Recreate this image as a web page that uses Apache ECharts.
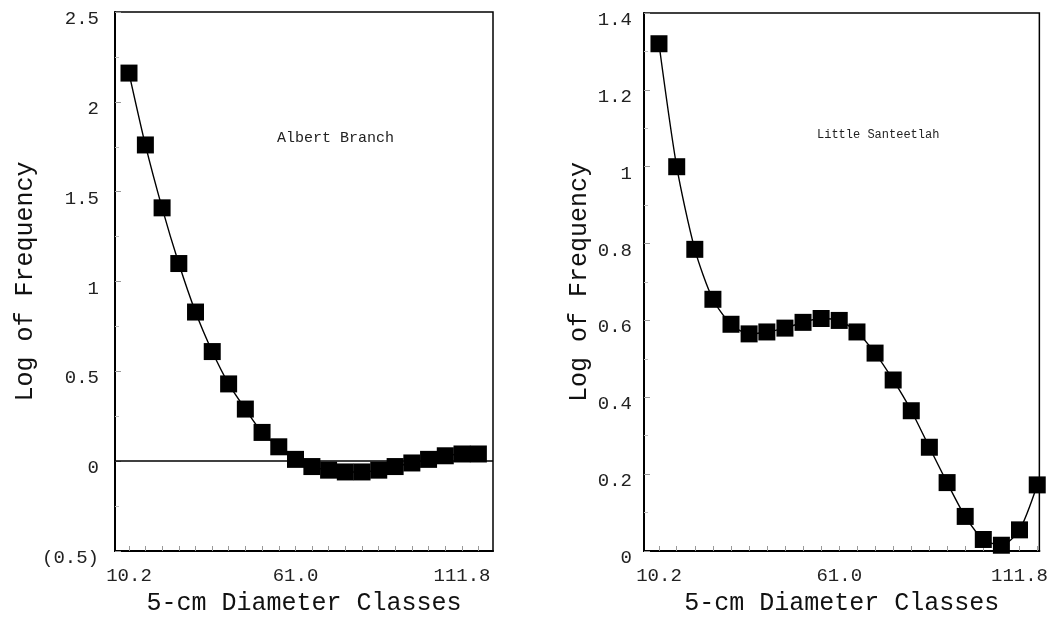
<!DOCTYPE html>
<html>
<head>
<meta charset="utf-8">
<script src="https://cdn.jsdelivr.net/npm/echarts@6/dist/echarts.min.js"></script>
<style>
  html, body { margin: 0; padding: 0; background: #fff; }
  #chart { width: 1051px; height: 621px; }
</style>
</head>
<body>
<div id="chart"></div>
<script>
// 2-inch diameter classes, in cm
var diameterClasses = [10.2, 15.2, 20.3, 25.4, 30.5, 35.6, 40.6, 45.7, 50.8, 55.9, 61.0,
                       66.0, 71.1, 76.2, 81.3, 86.4, 91.4, 96.5, 101.6, 106.7, 111.8, 116.8];
var xLabelValues = [10.2, 61.0, 111.8];

// log of frequency
var albertBranch = [2.16, 1.76, 1.41, 1.10, 0.83, 0.61, 0.43, 0.29, 0.16, 0.08, 0.01,
                    -0.03, -0.05, -0.06, -0.06, -0.05, -0.03, -0.01, 0.01, 0.03, 0.04, 0.04];
var littleSanteetlah = [1.32, 1.00, 0.785, 0.655, 0.59, 0.565, 0.57, 0.58, 0.595, 0.605, 0.60,
                        0.57, 0.515, 0.445, 0.365, 0.27, 0.178, 0.09, 0.03, 0.015, 0.055, 0.172];

var siteNames = ['Albert Branch', 'Little Santeetlah'];
var yTitle = 'Log of Frequency';
var xTitle = '5-cm Diameter Classes';

var font = '"Liberation Mono", "DejaVu Sans Mono", monospace';

function pairs(ys) {
    return ys.map(function (y, i) { return [diameterClasses[i], y]; });
}

function xAxisFor(gridIndex, min, max) {
    return {
        type: 'value',
        gridIndex: gridIndex,
        min: min,
        max: max,
        name: xTitle,
        nameLocation: 'middle',
        nameGap: 40,
        nameTextStyle: {fontFamily: font, fontSize: 25, color: '#111'},
        axisLine: {show: true, onZero: false, lineStyle: {color: '#000', width: 2}},
        axisTick: {show: true, inside: true, length: 5, customValues: diameterClasses,
                   lineStyle: {color: '#999'}},
        axisLabel: {customValues: xLabelValues, margin: 15, fontFamily: font, fontSize: 19, color: '#222',
                    formatter: function (v) { return v.toFixed(1); }},
        splitLine: {show: false}
    };
}

function yAxisFor(gridIndex, min, max, interval, gap, labelMargin, fmt) {
    return {
        type: 'value',
        gridIndex: gridIndex,
        min: min,
        max: max,
        interval: interval,
        name: yTitle,
        nameLocation: 'middle',
        nameGap: gap,
        nameTextStyle: {fontFamily: font, fontSize: 25, color: '#111'},
        axisLine: {show: true, onZero: false, lineStyle: {color: '#000', width: 2}},
        axisTick: {show: true, inside: true, length: 6, lineStyle: {color: '#999'}},
        minorTick: {show: true, splitNumber: 2, length: 4, lineStyle: {color: '#bbb'}},
        // labels in the scan sit a little below their ticks
        axisLabel: {margin: labelMargin, fontFamily: font, fontSize: 19, color: '#222',
                    verticalAlign: 'top', lineHeight: 14, formatter: fmt},
        splitLine: {show: false}
    };
}

function lineSeries(idx, ys, withZero) {
    var s = {
        type: 'line',
        xAxisIndex: idx,
        yAxisIndex: idx,
        data: pairs(ys),
        smooth: 0.25,
        symbol: 'rect',
        symbolSize: 17,
        itemStyle: {color: '#000'},
        lineStyle: {color: '#000', width: 1.4},
        z: 3
    };
    if (withZero) {
        s.markLine = {
            silent: true,
            symbol: 'none',
            label: {show: false},
            lineStyle: {color: '#000', type: 'solid', width: 1.5},
            data: [{yAxis: 0}]
        };
    }
    return s;
}

var chart = echarts.init(document.getElementById('chart'));

var option = {
    backgroundColor: '#fff',
    animation: false,
    title: [
        {text: siteNames[0], left: 272, top: 126,
         textStyle: {fontFamily: font, fontSize: 15, fontWeight: 'normal', color: '#222'}},
        {text: siteNames[1], left: 812, top: 124,
         textStyle: {fontFamily: font, fontSize: 12, fontWeight: 'normal', color: '#222'}}
    ],
    grid: [
        {left: 115, top: 12, width: 378, height: 545, show: true, borderColor: '#000', borderWidth: 1.5},
        {left: 644, top: 13, width: 396, height: 544, show: true, borderColor: '#000', borderWidth: 1.5}
    ],
    xAxis: [
        xAxisFor(0, 5.93, 121.26),
        xAxisFor(1, 5.98, 117.4)
    ],
    yAxis: [
        yAxisFor(0, -0.5, 2.5, 0.5, 66, 16, function (v) {
            return v < 0 ? '(' + Math.abs(v) + ')' : String(v);
        }),
        yAxisFor(1, 0, 1.4, 0.2, 52, 12, function (v) {
            return String(Math.round(v * 10) / 10);
        })
    ],
    series: [
        lineSeries(0, albertBranch, true),
        lineSeries(1, littleSanteetlah, false)
    ]
};

chart.setOption(option);
</script>
</body>
</html>
